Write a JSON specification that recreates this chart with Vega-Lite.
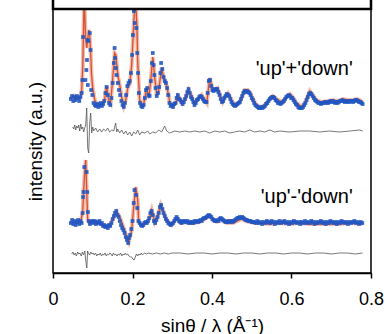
{
"$schema": "https://vega.github.io/schema/vega-lite/v6.json",
"width": 318, "height": 264,
"autosize": "none",
"padding": {"left": 53, "top": 9, "right": 17, "bottom": 61},
"config": {"view": {"stroke": "black", "strokeWidth": 1.5}, "font": "Liberation Sans"},
"encoding": {
  "x": {"field": "x", "type": "quantitative", "scale": {"domain": [0, 0.8]},
    "axis": {"values": [0, 0.2, 0.4, 0.6, 0.8], "format": "~g", "grid": false, "labelFlush": false,
      "domainColor": "black", "domainWidth": 1.5, "tickColor": "black", "tickWidth": 1.5, "tickSize": 5,
      "labelFontSize": 18, "labelColor": "black", "labelPadding": 12, "labelFont": "Liberation Sans",
      "title": "sinθ / λ (Å⁻¹)", "titleFontSize": 19, "titleFontWeight": "normal", "titleColor": "black", "titlePadding": 8, "titleFont": "Liberation Sans"}},
  "y": {"field": "y", "type": "quantitative", "scale": {"domain": [0, 264]},
    "axis": {"domain": false, "ticks": false, "labels": false, "grid": false, "minExtent": 0,
      "title": "intensity (a.u.)", "titleFontSize": 19, "titleFontWeight": "normal", "titleColor": "black", "titlePadding": 8, "titleFont": "Liberation Sans"}}
},
"layer": [
{"data": {"values": [{"x":0.042,"y":176},{"x":0.047,"y":175},{"x":0.052,"y":177},{"x":0.057,"y":174},{"x":0.062,"y":176},{"x":0.067,"y":175},{"x":0.072,"y":181},{"x":0.075,"y":208},{"x":0.077,"y":248},{"x":0.0785,"y":278},{"x":0.082,"y":235},{"x":0.085,"y":225},{"x":0.087,"y":233},{"x":0.090,"y":243},{"x":0.092,"y":239},{"x":0.095,"y":218},{"x":0.097,"y":198},{"x":0.100,"y":185},{"x":0.105,"y":173},{"x":0.110,"y":169},{"x":0.1175,"y":168},{"x":0.125,"y":169},{"x":0.130,"y":174},{"x":0.135,"y":187},{"x":0.140,"y":173},{"x":0.145,"y":170},{"x":0.150,"y":193},{"x":0.155,"y":220},{"x":0.158,"y":218},{"x":0.163,"y":198},{"x":0.168,"y":188},{"x":0.173,"y":175},{"x":0.178,"y":167},{"x":0.183,"y":173},{"x":0.188,"y":185},{"x":0.193,"y":189},{"x":0.198,"y":208},{"x":0.203,"y":248},{"x":0.207,"y":278},{"x":0.211,"y":248},{"x":0.213,"y":213},{"x":0.216,"y":188},{"x":0.218,"y":173},{"x":0.223,"y":168},{"x":0.228,"y":169},{"x":0.236,"y":185},{"x":0.241,"y":175},{"x":0.246,"y":193},{"x":0.251,"y":216},{"x":0.256,"y":195},{"x":0.261,"y":178},{"x":0.266,"y":183},{"x":0.273,"y":205},{"x":0.279,"y":195},{"x":0.284,"y":191},{"x":0.289,"y":181},{"x":0.294,"y":170},{"x":0.301,"y":168},{"x":0.309,"y":170},{"x":0.314,"y":177},{"x":0.319,"y":175},{"x":0.326,"y":170},{"x":0.334,"y":175},{"x":0.341,"y":183},{"x":0.349,"y":177},{"x":0.356,"y":169},{"x":0.364,"y":173},{"x":0.374,"y":178},{"x":0.382,"y":173},{"x":0.387,"y":170},{"x":0.394,"y":195},{"x":0.402,"y":183},{"x":0.409,"y":184},{"x":0.414,"y":185},{"x":0.422,"y":176},{"x":0.427,"y":171},{"x":0.434,"y":177},{"x":0.440,"y":180},{"x":0.447,"y":175},{"x":0.452,"y":170},{"x":0.460,"y":169},{"x":0.470,"y":171},{"x":0.477,"y":178},{"x":0.482,"y":183},{"x":0.490,"y":183},{"x":0.495,"y":181},{"x":0.502,"y":175},{"x":0.510,"y":169},{"x":0.520,"y":166},{"x":0.530,"y":167},{"x":0.540,"y":171},{"x":0.553,"y":177},{"x":0.563,"y":174},{"x":0.575,"y":171},{"x":0.585,"y":175},{"x":0.596,"y":179},{"x":0.603,"y":176},{"x":0.613,"y":170},{"x":0.626,"y":166},{"x":0.636,"y":172},{"x":0.646,"y":182},{"x":0.653,"y":178},{"x":0.663,"y":173},{"x":0.676,"y":171},{"x":0.691,"y":172},{"x":0.704,"y":173},{"x":0.716,"y":172},{"x":0.729,"y":174},{"x":0.741,"y":173},{"x":0.754,"y":173},{"x":0.764,"y":174},{"x":0.772,"y":173},{"x":0.779,"y":171}]},
 "layer": [
  {"mark": {"type": "line", "clip": true, "color": "#efb2a2", "strokeWidth": 4, "opacity": 0.85}},
  {"mark": {"type": "line", "clip": true, "color": "#d6512f", "strokeWidth": 1.3}}
 ]},
{"data": {"values": [{"x":0.045,"y":174},{"x":0.048,"y":177},{"x":0.051,"y":172},{"x":0.054,"y":176},{"x":0.057,"y":173},{"x":0.060,"y":177},{"x":0.063,"y":175},{"x":0.066,"y":172},{"x":0.069,"y":176},{"x":0.072,"y":180},{"x":0.074,"y":193},{"x":0.0755,"y":236},{"x":0.0815,"y":193},{"x":0.084,"y":203},{"x":0.0855,"y":213},{"x":0.087,"y":233},{"x":0.0875,"y":188},{"x":0.089,"y":232},{"x":0.0925,"y":240},{"x":0.0945,"y":223},{"x":0.096,"y":183},{"x":0.099,"y":178},{"x":0.102,"y":170},{"x":0.105,"y":168},{"x":0.108,"y":167},{"x":0.111,"y":169},{"x":0.114,"y":166},{"x":0.117,"y":168},{"x":0.120,"y":170},{"x":0.123,"y":167},{"x":0.126,"y":169},{"x":0.129,"y":172},{"x":0.132,"y":180},{"x":0.135,"y":186},{"x":0.138,"y":178},{"x":0.141,"y":170},{"x":0.144,"y":168},{"x":0.147,"y":175},{"x":0.150,"y":190},{"x":0.153,"y":210},{"x":0.155,"y":225},{"x":0.156,"y":215},{"x":0.158,"y":205},{"x":0.160,"y":198},{"x":0.163,"y":190},{"x":0.166,"y":183},{"x":0.169,"y":178},{"x":0.172,"y":172},{"x":0.175,"y":168},{"x":0.178,"y":166},{"x":0.181,"y":170},{"x":0.184,"y":178},{"x":0.187,"y":187},{"x":0.190,"y":190},{"x":0.193,"y":192},{"x":0.196,"y":200},{"x":0.199,"y":218},{"x":0.201,"y":238},{"x":0.2035,"y":262},{"x":0.2055,"y":250},{"x":0.2097,"y":245},{"x":0.212,"y":220},{"x":0.214,"y":200},{"x":0.216,"y":180},{"x":0.219,"y":170},{"x":0.222,"y":167},{"x":0.225,"y":166},{"x":0.228,"y":168},{"x":0.231,"y":175},{"x":0.234,"y":183},{"x":0.237,"y":185},{"x":0.240,"y":178},{"x":0.243,"y":177},{"x":0.246,"y":192},{"x":0.249,"y":210},{"x":0.251,"y":220},{"x":0.253,"y":208},{"x":0.255,"y":198},{"x":0.258,"y":185},{"x":0.261,"y":177},{"x":0.264,"y":180},{"x":0.267,"y":186},{"x":0.270,"y":200},{"x":0.272,"y":210},{"x":0.275,"y":204},{"x":0.278,"y":196},{"x":0.281,"y":192},{"x":0.284,"y":190},{"x":0.287,"y":185},{"x":0.290,"y":178},{"x":0.293,"y":170},{"x":0.296,"y":167},{"x":0.299,"y":168},{"x":0.302,"y":166},{"x":0.305,"y":169},{"x":0.308,"y":170},{"x":0.311,"y":175},{"x":0.314,"y":178},{"x":0.317,"y":174},{"x":0.320,"y":173},{"x":0.323,"y":171},{"x":0.326,"y":169},{"x":0.329,"y":171},{"x":0.332,"y":174},{"x":0.335,"y":177},{"x":0.338,"y":181},{"x":0.341,"y":184},{"x":0.344,"y":180},{"x":0.347,"y":176},{"x":0.350,"y":174},{"x":0.353,"y":171},{"x":0.356,"y":168},{"x":0.359,"y":170},{"x":0.362,"y":173},{"x":0.365,"y":174},{"x":0.368,"y":176},{"x":0.371,"y":177},{"x":0.374,"y":176},{"x":0.377,"y":174},{"x":0.380,"y":172},{"x":0.383,"y":171},{"x":0.386,"y":171},{"x":0.389,"y":180},{"x":0.392,"y":192},{"x":0.395,"y":193},{"x":0.398,"y":187},{"x":0.401,"y":183},{"x":0.404,"y":182},{"x":0.407,"y":184},{"x":0.410,"y":183},{"x":0.413,"y":184},{"x":0.416,"y":181},{"x":0.419,"y":178},{"x":0.422,"y":174},{"x":0.425,"y":171},{"x":0.428,"y":172},{"x":0.431,"y":175},{"x":0.434,"y":177},{"x":0.437,"y":179},{"x":0.440,"y":178},{"x":0.443,"y":177},{"x":0.446,"y":174},{"x":0.449,"y":171},{"x":0.452,"y":169},{"x":0.455,"y":168},{"x":0.458,"y":167},{"x":0.461,"y":168},{"x":0.464,"y":169},{"x":0.467,"y":170},{"x":0.470,"y":171},{"x":0.473,"y":174},{"x":0.476,"y":177},{"x":0.479,"y":180},{"x":0.482,"y":182},{"x":0.485,"y":181},{"x":0.488,"y":182},{"x":0.491,"y":181},{"x":0.494,"y":180},{"x":0.497,"y":178},{"x":0.500,"y":175},{"x":0.503,"y":173},{"x":0.506,"y":170},{"x":0.509,"y":168},{"x":0.512,"y":167},{"x":0.515,"y":166},{"x":0.518,"y":165},{"x":0.521,"y":165},{"x":0.524,"y":166},{"x":0.527,"y":165},{"x":0.530,"y":166},{"x":0.533,"y":167},{"x":0.536,"y":169},{"x":0.539,"y":170},{"x":0.542,"y":172},{"x":0.545,"y":174},{"x":0.548,"y":175},{"x":0.551,"y":176},{"x":0.554,"y":176},{"x":0.557,"y":175},{"x":0.560,"y":173},{"x":0.563,"y":172},{"x":0.566,"y":170},{"x":0.569,"y":170},{"x":0.572,"y":169},{"x":0.575,"y":170},{"x":0.578,"y":171},{"x":0.581,"y":172},{"x":0.584,"y":174},{"x":0.587,"y":176},{"x":0.590,"y":177},{"x":0.593,"y":178},{"x":0.596,"y":177},{"x":0.599,"y":175},{"x":0.602,"y":175},{"x":0.605,"y":173},{"x":0.608,"y":171},{"x":0.611,"y":169},{"x":0.614,"y":168},{"x":0.617,"y":166},{"x":0.620,"y":165},{"x":0.623,"y":165},{"x":0.626,"y":165},{"x":0.629,"y":166},{"x":0.632,"y":168},{"x":0.635,"y":170},{"x":0.638,"y":173},{"x":0.641,"y":176},{"x":0.644,"y":179},{"x":0.647,"y":180},{"x":0.650,"y":179},{"x":0.653,"y":177},{"x":0.656,"y":175},{"x":0.659,"y":173},{"x":0.662,"y":172},{"x":0.665,"y":171},{"x":0.668,"y":170},{"x":0.671,"y":170},{"x":0.674,"y":169},{"x":0.677,"y":170},{"x":0.680,"y":170},{"x":0.683,"y":171},{"x":0.686,"y":170},{"x":0.689,"y":171},{"x":0.692,"y":170},{"x":0.695,"y":171},{"x":0.698,"y":172},{"x":0.701,"y":171},{"x":0.704,"y":172},{"x":0.707,"y":171},{"x":0.710,"y":170},{"x":0.713,"y":171},{"x":0.716,"y":170},{"x":0.719,"y":171},{"x":0.722,"y":172},{"x":0.725,"y":172},{"x":0.728,"y":173},{"x":0.731,"y":172},{"x":0.734,"y":171},{"x":0.737,"y":172},{"x":0.740,"y":171},{"x":0.743,"y":172},{"x":0.746,"y":171},{"x":0.749,"y":172},{"x":0.752,"y":172},{"x":0.755,"y":171},{"x":0.758,"y":172},{"x":0.761,"y":173},{"x":0.764,"y":173},{"x":0.767,"y":172},{"x":0.770,"y":171},{"x":0.773,"y":171},{"x":0.776,"y":170},{"x":0.779,"y":169}]},
 "mark": {"type": "point", "shape": "square", "filled": true, "size": 14, "color": "#2156c2", "opacity": 0.9, "clip": true}},
{"data": {"values": [{"x":0.047,"y":50},{"x":0.0546,"y":51},{"x":0.0621,"y":50},{"x":0.0697,"y":51},{"x":0.0747,"y":61},{"x":0.0772,"y":83},{"x":0.0797,"y":100},{"x":0.0823,"y":113},{"x":0.0848,"y":83},{"x":0.0873,"y":53},{"x":0.0923,"y":50},{"x":0.1049,"y":51},{"x":0.1175,"y":50},{"x":0.1301,"y":46},{"x":0.1426,"y":48},{"x":0.1527,"y":55},{"x":0.1603,"y":61},{"x":0.1678,"y":56},{"x":0.1753,"y":48},{"x":0.1804,"y":42},{"x":0.1854,"y":36},{"x":0.1904,"y":31},{"x":0.1980,"y":43},{"x":0.2030,"y":66},{"x":0.2081,"y":86},{"x":0.2131,"y":73},{"x":0.2156,"y":51},{"x":0.2231,"y":48},{"x":0.2307,"y":50},{"x":0.2382,"y":51},{"x":0.2433,"y":56},{"x":0.2483,"y":63},{"x":0.2558,"y":51},{"x":0.2634,"y":57},{"x":0.2709,"y":68},{"x":0.2760,"y":63},{"x":0.2860,"y":53},{"x":0.2986,"y":48},{"x":0.3112,"y":55},{"x":0.3238,"y":50},{"x":0.3363,"y":51},{"x":0.3514,"y":50},{"x":0.3690,"y":51},{"x":0.3816,"y":54},{"x":0.3942,"y":57},{"x":0.4043,"y":53},{"x":0.4118,"y":51},{"x":0.4244,"y":53},{"x":0.4370,"y":50},{"x":0.4521,"y":50},{"x":0.4646,"y":52},{"x":0.4747,"y":54},{"x":0.4848,"y":52},{"x":0.4948,"y":51},{"x":0.5074,"y":50},{"x":0.5200,"y":50},{"x":0.5451,"y":49},{"x":0.5703,"y":50},{"x":0.5955,"y":49},{"x":0.6206,"y":50},{"x":0.6458,"y":49},{"x":0.6709,"y":49},{"x":0.6960,"y":49},{"x":0.7212,"y":49},{"x":0.7464,"y":50},{"x":0.7791,"y":49}]},
 "layer": [
  {"mark": {"type": "line", "clip": true, "color": "#efb2a2", "strokeWidth": 4, "opacity": 0.85}},
  {"mark": {"type": "line", "clip": true, "color": "#d6512f", "strokeWidth": 1.3}}
 ]},
{"data": {"values": [{"x":0.045,"y":50},{"x":0.048,"y":53},{"x":0.051,"y":49},{"x":0.054,"y":52},{"x":0.057,"y":48},{"x":0.060,"y":51},{"x":0.063,"y":53},{"x":0.066,"y":49},{"x":0.069,"y":52},{"x":0.072,"y":50},{"x":0.0745,"y":60},{"x":0.0755,"y":76},{"x":0.0765,"y":81},{"x":0.0787,"y":106},{"x":0.0847,"y":101},{"x":0.0862,"y":81},{"x":0.0877,"y":61},{"x":0.090,"y":52},{"x":0.093,"y":49},{"x":0.096,"y":51},{"x":0.099,"y":52},{"x":0.102,"y":50},{"x":0.105,"y":52},{"x":0.108,"y":49},{"x":0.111,"y":51},{"x":0.114,"y":50},{"x":0.117,"y":52},{"x":0.120,"y":49},{"x":0.123,"y":50},{"x":0.126,"y":47},{"x":0.129,"y":48},{"x":0.132,"y":46},{"x":0.135,"y":47},{"x":0.138,"y":45},{"x":0.141,"y":48},{"x":0.144,"y":47},{"x":0.147,"y":50},{"x":0.150,"y":54},{"x":0.153,"y":57},{"x":0.156,"y":60},{"x":0.159,"y":62},{"x":0.162,"y":58},{"x":0.165,"y":56},{"x":0.168,"y":52},{"x":0.171,"y":48},{"x":0.174,"y":45},{"x":0.177,"y":43},{"x":0.180,"y":40},{"x":0.183,"y":36},{"x":0.186,"y":33},{"x":0.189,"y":30},{"x":0.191,"y":35},{"x":0.194,"y":38},{"x":0.197,"y":44},{"x":0.200,"y":52},{"x":0.203,"y":70},{"x":0.205,"y":83},{"x":0.209,"y":78},{"x":0.212,"y":65},{"x":0.215,"y":52},{"x":0.218,"y":50},{"x":0.221,"y":48},{"x":0.224,"y":47},{"x":0.227,"y":48},{"x":0.230,"y":50},{"x":0.233,"y":51},{"x":0.236,"y":50},{"x":0.239,"y":52},{"x":0.242,"y":55},{"x":0.245,"y":60},{"x":0.248,"y":62},{"x":0.251,"y":58},{"x":0.254,"y":52},{"x":0.257,"y":50},{"x":0.260,"y":53},{"x":0.263,"y":56},{"x":0.266,"y":60},{"x":0.269,"y":66},{"x":0.272,"y":68},{"x":0.275,"y":64},{"x":0.278,"y":60},{"x":0.281,"y":57},{"x":0.284,"y":54},{"x":0.287,"y":52},{"x":0.290,"y":50},{"x":0.293,"y":49},{"x":0.296,"y":48},{"x":0.299,"y":49},{"x":0.302,"y":50},{"x":0.305,"y":52},{"x":0.308,"y":54},{"x":0.311,"y":56},{"x":0.314,"y":54},{"x":0.317,"y":52},{"x":0.320,"y":51},{"x":0.323,"y":50},{"x":0.326,"y":52},{"x":0.329,"y":51},{"x":0.332,"y":52},{"x":0.335,"y":51},{"x":0.338,"y":52},{"x":0.341,"y":50},{"x":0.344,"y":51},{"x":0.347,"y":50},{"x":0.350,"y":51},{"x":0.353,"y":50},{"x":0.356,"y":52},{"x":0.359,"y":51},{"x":0.362,"y":52},{"x":0.365,"y":51},{"x":0.368,"y":52},{"x":0.371,"y":53},{"x":0.374,"y":52},{"x":0.377,"y":54},{"x":0.380,"y":55},{"x":0.383,"y":55},{"x":0.386,"y":56},{"x":0.389,"y":57},{"x":0.392,"y":58},{"x":0.395,"y":57},{"x":0.398,"y":56},{"x":0.401,"y":54},{"x":0.404,"y":53},{"x":0.407,"y":52},{"x":0.410,"y":52},{"x":0.413,"y":53},{"x":0.416,"y":52},{"x":0.419,"y":54},{"x":0.422,"y":55},{"x":0.425,"y":54},{"x":0.428,"y":53},{"x":0.431,"y":52},{"x":0.434,"y":51},{"x":0.437,"y":51},{"x":0.440,"y":52},{"x":0.443,"y":51},{"x":0.446,"y":52},{"x":0.449,"y":52},{"x":0.452,"y":51},{"x":0.455,"y":52},{"x":0.458,"y":53},{"x":0.461,"y":54},{"x":0.464,"y":55},{"x":0.467,"y":55},{"x":0.470,"y":56},{"x":0.473,"y":55},{"x":0.476,"y":56},{"x":0.479,"y":55},{"x":0.482,"y":54},{"x":0.485,"y":53},{"x":0.488,"y":53},{"x":0.491,"y":52},{"x":0.494,"y":52},{"x":0.497,"y":52},{"x":0.500,"y":51},{"x":0.503,"y":51},{"x":0.506,"y":51},{"x":0.510,"y":50},{"x":0.514,"y":52},{"x":0.518,"y":50},{"x":0.522,"y":51},{"x":0.526,"y":49},{"x":0.530,"y":51},{"x":0.534,"y":50},{"x":0.538,"y":52},{"x":0.542,"y":51},{"x":0.546,"y":50},{"x":0.550,"y":52},{"x":0.554,"y":51},{"x":0.558,"y":49},{"x":0.562,"y":51},{"x":0.566,"y":50},{"x":0.570,"y":52},{"x":0.574,"y":50},{"x":0.578,"y":51},{"x":0.582,"y":52},{"x":0.586,"y":50},{"x":0.590,"y":51},{"x":0.594,"y":49},{"x":0.598,"y":51},{"x":0.602,"y":50},{"x":0.606,"y":52},{"x":0.610,"y":51},{"x":0.614,"y":50},{"x":0.618,"y":51},{"x":0.622,"y":49},{"x":0.626,"y":51},{"x":0.630,"y":50},{"x":0.634,"y":52},{"x":0.638,"y":50},{"x":0.642,"y":51},{"x":0.646,"y":50},{"x":0.650,"y":52},{"x":0.654,"y":51},{"x":0.658,"y":49},{"x":0.662,"y":51},{"x":0.666,"y":50},{"x":0.670,"y":51},{"x":0.674,"y":52},{"x":0.678,"y":50},{"x":0.682,"y":51},{"x":0.686,"y":49},{"x":0.690,"y":51},{"x":0.694,"y":50},{"x":0.698,"y":52},{"x":0.702,"y":51},{"x":0.706,"y":50},{"x":0.710,"y":51},{"x":0.714,"y":49},{"x":0.718,"y":51},{"x":0.722,"y":50},{"x":0.726,"y":52},{"x":0.730,"y":51},{"x":0.734,"y":50},{"x":0.738,"y":51},{"x":0.742,"y":49},{"x":0.746,"y":51},{"x":0.750,"y":50},{"x":0.754,"y":51},{"x":0.758,"y":52},{"x":0.762,"y":50},{"x":0.766,"y":51},{"x":0.770,"y":49},{"x":0.774,"y":51},{"x":0.778,"y":50}]},
 "mark": {"type": "point", "shape": "square", "filled": true, "size": 14, "color": "#2156c2", "opacity": 0.9, "clip": true}},
{"data": {"values": [{"x":0.0496,"y":146},{"x":0.0521,"y":144},{"x":0.0546,"y":148},{"x":0.0571,"y":143},{"x":0.0596,"y":147},{"x":0.0621,"y":145},{"x":0.0646,"y":148},{"x":0.0672,"y":142},{"x":0.0697,"y":149},{"x":0.0722,"y":144},{"x":0.0747,"y":146},{"x":0.0772,"y":141},{"x":0.0797,"y":145},{"x":0.0823,"y":148},{"x":0.0848,"y":165},{"x":0.0873,"y":125},{"x":0.0898,"y":120},{"x":0.0923,"y":150},{"x":0.0948,"y":160},{"x":0.0974,"y":140},{"x":0.0999,"y":146},{"x":0.1024,"y":142},{"x":0.1074,"y":145},{"x":0.1124,"y":141},{"x":0.1175,"y":144},{"x":0.1225,"y":141},{"x":0.1275,"y":144},{"x":0.1326,"y":142},{"x":0.1376,"y":145},{"x":0.1426,"y":141},{"x":0.1477,"y":143},{"x":0.1527,"y":142},{"x":0.1577,"y":150},{"x":0.1603,"y":141},{"x":0.1628,"y":144},{"x":0.1678,"y":140},{"x":0.1728,"y":143},{"x":0.1779,"y":139},{"x":0.1829,"y":142},{"x":0.1879,"y":138},{"x":0.1930,"y":141},{"x":0.1980,"y":137},{"x":0.2030,"y":141},{"x":0.2081,"y":139},{"x":0.2131,"y":143},{"x":0.2181,"y":138},{"x":0.2231,"y":141},{"x":0.2307,"y":140},{"x":0.2382,"y":142},{"x":0.2433,"y":139},{"x":0.2508,"y":141},{"x":0.2584,"y":140},{"x":0.2659,"y":143},{"x":0.2734,"y":141},{"x":0.2810,"y":147},{"x":0.2860,"y":142},{"x":0.2936,"y":140},{"x":0.3061,"y":142},{"x":0.3187,"y":141},{"x":0.3313,"y":142},{"x":0.3439,"y":141},{"x":0.3564,"y":142},{"x":0.3690,"y":141},{"x":0.3816,"y":142},{"x":0.3942,"y":140},{"x":0.4068,"y":142},{"x":0.4193,"y":141},{"x":0.4319,"y":142},{"x":0.4445,"y":140},{"x":0.4570,"y":141},{"x":0.4696,"y":142},{"x":0.4822,"y":141},{"x":0.4948,"y":143},{"x":0.5074,"y":141},{"x":0.5200,"y":142},{"x":0.5326,"y":141},{"x":0.5451,"y":143},{"x":0.5577,"y":141},{"x":0.5703,"y":142},{"x":0.5955,"y":141},{"x":0.6206,"y":142},{"x":0.6458,"y":142},{"x":0.6709,"y":141},{"x":0.6960,"y":142},{"x":0.7212,"y":141},{"x":0.7464,"y":142},{"x":0.7716,"y":143},{"x":0.7791,"y":142}]},
 "mark": {"type": "line", "color": "#555555", "strokeWidth": 0.8}},
{"data": {"values": [{"x":0.047,"y":19},{"x":0.050,"y":21},{"x":0.053,"y":18},{"x":0.056,"y":20},{"x":0.059,"y":17},{"x":0.062,"y":21},{"x":0.065,"y":19},{"x":0.068,"y":20},{"x":0.071,"y":17},{"x":0.074,"y":21},{"x":0.077,"y":18},{"x":0.080,"y":22},{"x":0.082,"y":14},{"x":0.084,"y":8},{"x":0.085,"y":5},{"x":0.086,"y":12},{"x":0.087,"y":22},{"x":0.089,"y":20},{"x":0.092,"y":18},{"x":0.095,"y":21},{"x":0.098,"y":19},{"x":0.101,"y":20},{"x":0.104,"y":18},{"x":0.107,"y":20},{"x":0.110,"y":17},{"x":0.113,"y":19},{"x":0.116,"y":18},{"x":0.119,"y":20},{"x":0.122,"y":17},{"x":0.125,"y":19},{"x":0.128,"y":18},{"x":0.131,"y":20},{"x":0.134,"y":17},{"x":0.137,"y":19},{"x":0.140,"y":18},{"x":0.143,"y":20},{"x":0.146,"y":19},{"x":0.149,"y":17},{"x":0.152,"y":20},{"x":0.155,"y":18},{"x":0.158,"y":19},{"x":0.161,"y":17},{"x":0.164,"y":19},{"x":0.167,"y":18},{"x":0.170,"y":20},{"x":0.173,"y":17},{"x":0.176,"y":19},{"x":0.179,"y":18},{"x":0.182,"y":20},{"x":0.185,"y":18},{"x":0.188,"y":19},{"x":0.191,"y":17},{"x":0.195,"y":16},{"x":0.198,"y":16},{"x":0.201,"y":14},{"x":0.204,"y":13},{"x":0.207,"y":16},{"x":0.210,"y":19},{"x":0.213,"y":17},{"x":0.216,"y":19},{"x":0.219,"y":18},{"x":0.222,"y":20},{"x":0.225,"y":18},{"x":0.230,"y":20},{"x":0.235,"y":19},{"x":0.240,"y":20},{"x":0.250,"y":19},{"x":0.260,"y":20},{"x":0.270,"y":19},{"x":0.280,"y":20},{"x":0.290,"y":19},{"x":0.300,"y":20},{"x":0.320,"y":20},{"x":0.340,"y":19},{"x":0.360,"y":20},{"x":0.380,"y":20},{"x":0.400,"y":19},{"x":0.420,"y":20},{"x":0.440,"y":20},{"x":0.460,"y":19},{"x":0.480,"y":20},{"x":0.500,"y":20},{"x":0.520,"y":19},{"x":0.540,"y":20},{"x":0.560,"y":20},{"x":0.580,"y":19},{"x":0.600,"y":20},{"x":0.620,"y":20},{"x":0.640,"y":19},{"x":0.660,"y":20},{"x":0.680,"y":20},{"x":0.700,"y":19},{"x":0.720,"y":20},{"x":0.740,"y":20},{"x":0.760,"y":19},{"x":0.779,"y":20}]},
 "mark": {"type": "line", "color": "#555555", "strokeWidth": 0.8}},
{"data": {"values": [{"x":0.754,"y":198,"t":"'up'+'down'"},{"x":0.754,"y":70,"t":"'up'-'down'"}]},
 "mark": {"type": "text", "align": "right", "baseline": "alphabetic", "fontSize": 20, "font": "Liberation Sans", "color": "black"},
 "encoding": {"text": {"field": "t", "type": "nominal"}}},
{"data": {"values": [{"x":0,"x2":0.8,"y":264,"y2":330}]},
 "mark": {"type": "rect", "fill": "white", "stroke": "black", "strokeWidth": 2.5, "clip": false},
 "encoding": {"x2": {"field": "x2"}, "y2": {"field": "y2"}}}
]
}
